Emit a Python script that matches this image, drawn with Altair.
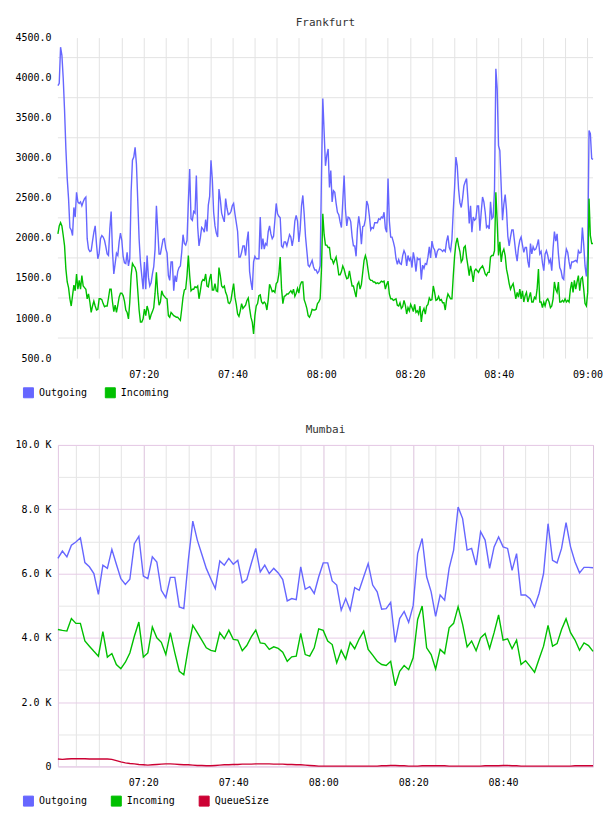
import altair as alt
import pandas as pd

MONO = "DejaVu Sans Mono"

SERIES = ["Outgoing", "Incoming", "QueueSize"]
COLORS = ["#6666ff", "#00c000", "#cc0033"]

# ---------------- Frankfurt: one sample every 18 s, first at 07:00:40 ----------------
fra_start, fra_step = 40, 18  # seconds after 07:00

fra_outgoing = [
    3900, 3930, 4380, 4280, 3990, 3590, 3110, 2740, 2490, 2130,
    2100, 2030, 2380, 2260, 2570, 2450, 2430, 2450, 2400, 2450,
    2490, 2510, 1990, 1860, 1830, 1840, 1960, 2070, 2150, 1920,
    1740, 1810, 1990, 2030, 2010, 1970, 1890, 1800, 1780, 2110,
    2330, 1830, 1550, 1680, 1810, 1780, 1950, 2060, 1970, 1770,
    1690, 1680, 1820, 1650, 1740, 2570, 2970, 3010, 3130, 2920,
    2460, 1990, 1700, 1530, 1360, 1700, 1360, 1780, 1510, 1400,
    1440, 1550, 1640, 1860, 2400, 2100, 1800, 1800, 1890, 1980,
    1990, 1870, 1810, 1530, 1470, 1700, 1700, 1340, 1530, 1450,
    1580, 1630, 1650, 1820, 2040, 1930, 1910, 1970, 2450, 2860,
    2240, 2220, 2330, 2310,
    2780, 2140, 1900, 2000, 2130, 2110, 2070, 2230, 2080, 2410,
    2520, 2970, 2730, 2320, 2150, 2060, 2010, 2610, 2480, 2310,
    2250, 2200, 2490, 2370, 2290, 2300, 2330, 2400, 2430, 2300,
    2190, 2080, 1760, 1760, 1820, 1900, 1900, 1780, 1960, 2080,
    1580, 1450, 1350, 1700, 1770, 1740, 1740, 1740, 2260, 1860,
    1990, 1860, 1930, 1910, 2080, 2150, 2050, 1990, 2020, 2220,
    2430, 2300, 2270, 2250, 1900, 1880, 1950, 1950, 1900, 1970,
    2040, 2010, 1900, 2000, 2210, 2280, 2210, 1950, 2100, 2400,
    2530, 2300, 2020, 1840, 1660, 1640, 1680, 1720, 1640, 1600,
    1600, 1560, 1580, 1650, 2780, 3740, 3320,
    2900, 3030, 3110, 2630, 2840, 2450, 2590, 2570, 2430, 2320,
    2290, 2200, 2130, 2450, 2780, 2360, 2150, 2260, 2250, 2200,
    2020, 1900, 1900, 1770, 2110, 2270, 2140, 1920, 2140, 2150,
    2230, 2460, 2410, 2270, 2100, 2130, 2120, 2190, 2190, 2190,
    2240, 2230, 2260, 2250, 2320, 2120, 2070, 2740, 2210, 2010,
    2010, 1950, 1880, 1740, 1670, 1730, 1680, 1670, 1780, 1840,
    1800, 1650, 1780, 1720, 1750, 1630, 1820, 1730, 1580, 1750,
    1730, 1740, 1480, 1660, 1620, 1680, 1670, 1760, 1890, 1750,
    1960, 1880, 1850, 1750, 1830, 1860, 1860, 1850, 1830, 1850,
    1830, 1960, 2030, 1880, 1840, 1980, 2340, 2630, 3010, 2900,
    2610, 2440, 2380, 2490,
    2650, 2700, 2740, 2490, 2180, 2400, 2070, 2260, 2220, 2240,
    2400, 2400, 2090, 2320, 2510, 2450, 2320, 2130, 2150, 2110,
    2450, 2240, 2260, 2610, 4110, 3860, 3150, 3090, 2650, 2220,
    2420, 2540, 2350, 2020, 1900, 2010, 2100, 2100, 1960, 1810,
    1710, 1880, 1970, 2010, 1910, 1820, 1880, 1880, 1710, 1630,
    1930, 1800, 1890, 1850, 1860, 1910, 1980, 1800, 1830, 1690,
    1590, 1800, 1840, 1780, 1690, 1730, 1590, 1870, 2080, 1960,
    2050, 1800, 1630, 1590, 1500, 1480, 1740, 1860, 1820, 1700,
    1610, 1700, 1700, 1710, 1720, 1700, 1840, 1810, 1820, 2130,
    1920, 1650, 1520, 1780, 3340, 3300, 2990, 2980,
]

fra_incoming = [
    2050, 2150, 2190, 2150, 2030, 1900, 1610, 1450, 1380, 1240,
    1150, 1280, 1410, 1340, 1550, 1360, 1470, 1360, 1530, 1400,
    1380, 1360, 1240, 1300, 1200, 1070, 1150, 1210, 1150, 1100,
    1110, 1240, 1240, 1230, 1180, 1140, 1150, 1150, 1250, 1360,
    1360, 1200, 1080, 1160, 1070, 1160, 1260, 1310, 1310, 1280,
    1210, 1100, 1070, 990, 1200, 1530, 1680, 1650, 1630, 1570,
    1340, 1100, 950, 950, 990, 1110, 1030, 1150, 1090, 980,
    1040, 1080, 1130, 1310, 1570, 1310, 1160, 1200, 1340, 1290,
    1270, 1250, 1240, 1030, 1010, 1070, 1050, 1030, 1020, 1010,
    1010, 990, 970, 1110, 1260, 1350, 1360, 1530, 1780, 1530,
    1340, 1360, 1360, 1390,
    1380, 1400, 1240, 1340, 1450, 1480, 1470, 1550, 1400, 1390,
    1490, 1550, 1350, 1350, 1430, 1340, 1330, 1630, 1530, 1400,
    1380, 1400, 1320, 1280, 1190, 1180, 1220, 1330, 1430, 1260,
    1170, 1050, 1020, 1090, 1180, 1120, 1140, 1160, 1220, 1250,
    1120, 1010, 950, 800, 1030, 1150, 1180, 1280, 1290, 1200,
    1180, 1200, 1180, 1100, 1230, 1420, 1380, 1330, 1340, 1320,
    1430, 1450, 1550, 1760, 1370, 1180, 1270, 1280, 1300, 1300,
    1320, 1340, 1310, 1360, 1270, 1310, 1370, 1310, 1410, 1450,
    1450, 1230, 1180, 1120, 1030, 1010, 1050, 1110, 1100, 1100,
    1110, 1180, 1200, 1240, 1610, 2300, 2040,
    1910, 1910, 1880, 1880, 1740, 1730, 1680, 1720, 1760, 1660,
    1540, 1540, 1580, 1650, 1610, 1540, 1490, 1500, 1590, 1490,
    1400, 1400, 1330, 1260, 1420, 1450, 1360, 1420, 1570, 1720,
    1780, 1720, 1600, 1490, 1470, 1470, 1450, 1450, 1430, 1440,
    1430, 1440, 1460, 1450, 1460, 1360, 1420, 1460, 1300, 1240,
    1240, 1220, 1230, 1240, 1160, 1150, 1190, 1120, 1140, 1220,
    1160, 1050, 1130, 1090, 1170, 1130, 1080, 1170, 1070, 1090,
    1050, 1150, 950, 1080, 1120, 1050, 1150, 1170, 1250, 1220,
    1230, 1400, 1320, 1220, 1230, 1270, 1220, 1230, 1190, 1190,
    1100, 1230, 1300, 1270, 1240, 1240, 1520, 1770, 1930, 2000,
    1900, 1830, 1700, 1730,
    1880, 1900, 1760, 1650, 1530, 1650, 1570, 1450, 1590, 1610,
    1590, 1570, 1610, 1630, 1650, 1610, 1550, 1530, 1570, 1570,
    1760, 1780, 1780, 1840, 2570, 2200, 1780, 1950, 1700, 1820,
    1860, 1780, 1610, 1530, 1430, 1360, 1400, 1430, 1340, 1240,
    1320, 1260, 1360, 1240, 1340, 1200, 1280, 1320, 1200, 1260,
    1320, 1200, 1200, 1260, 1240, 1360, 1610, 1200, 1200, 1130,
    1200, 1150, 1220, 1240, 1200, 1130, 1150, 1240, 1450, 1360,
    1320, 1450, 1200, 1200, 1220, 1200, 1240, 1200, 1220, 1200,
    1360, 1450, 1320, 1470, 1360, 1450, 1530, 1340, 1490, 1510,
    1360, 1180, 1150, 1320, 2490, 2030, 1930, 1930,
]

fra_y_labels = [500, 1000, 1500, 2000, 2500, 3000, 3500, 4000, 4500]
fra_y_grid = [750, 1250, 1750, 2250, 2750, 3250, 3750, 4250]

# ---------------- Mumbai: one sample per minute, 07:01 .. 09:00 ----------------
mum_start, mum_step = 60, 60

mum_outgoing = [
    6470, 6700, 6520, 6880, 6980, 7110, 6340, 6210, 6000, 5350,
    6260, 6160, 6750, 6290, 5840, 5660, 5820, 6930, 7160, 5920,
    5840, 6520, 6360, 5480, 5250, 5880, 5880, 4960, 4910, 6410,
    7630, 7040, 6600, 6160, 5840, 5530, 6390, 6260, 6470, 6290,
    6410, 5710, 5810, 6310, 6780, 6050, 6260, 6000, 6160, 6020,
    5810, 5150, 5220, 5190, 6210, 5510, 5590, 5380, 5900, 6330,
    6330, 5770, 5640, 4860, 5220, 4860, 5560, 5480, 5900, 6310,
    5640, 5430, 4890, 4910, 5100, 3860, 4600, 4820, 4480, 5000,
    6620, 7090, 5900, 5430, 4670, 5330, 5170, 6160, 6730, 8070,
    7710, 6730, 6780, 6260, 7300, 7040, 6160, 6830, 7140, 6830,
    6780, 6100, 6620, 5330, 5330, 5220, 4960, 5380, 6000, 7550,
    6410, 6330, 6780, 7580, 6830, 6360, 6020, 6190, 6190, 6180,
]

mum_incoming = [
    4260, 4230, 4210, 4600, 4450, 4450, 3900, 3740, 3580, 3430,
    4190, 3400, 3510, 3170, 3040, 3240, 3530, 4050, 4490, 3400,
    3530, 4340, 4000, 3860, 3480, 4160, 3530, 2960, 2850, 3690,
    4390, 4160, 3930, 3690, 3610, 3580, 4160, 3970, 4240, 3950,
    3930, 3600, 3760, 4030, 4240, 3840, 3820, 3640, 3720, 3670,
    3550, 3270, 3410, 3430, 4140, 3480, 3430, 3690, 4280, 4230,
    3900, 3790, 3220, 3610, 3340, 3860, 3660, 3970, 4210, 3640,
    3460, 3270, 3170, 3140, 3270, 2510, 2960, 3140, 3010, 3380,
    4570, 4990, 3690, 3480, 3030, 3640, 3510, 4310, 4450, 4970,
    4420, 3720, 3900, 3600, 4000, 4130, 3670, 4160, 4710, 3930,
    3970, 3660, 3930, 3170, 3290, 3110, 2930, 3340, 3740, 4390,
    3740, 3820, 4260, 4590, 4160, 3930, 3610, 3840, 3760, 3580,
]

mum_queue = [
    230, 220, 230, 240, 240, 240, 240, 230, 230, 230,
    230, 230, 220, 180, 140, 110, 90, 80, 60, 50,
    40, 50, 60, 70, 80, 80, 70, 60, 50, 50,
    40, 30, 30, 20, 20, 30, 40, 50, 50, 60,
    60, 70, 70, 70, 80, 80, 80, 80, 70, 70,
    70, 60, 60, 50, 50, 40, 30, 20, 10, 10,
    10, 10, 10, 10, 10, 10, 10, 10, 10, 10,
    10, 10, 20, 20, 30, 30, 20, 20, 10, 10,
    10, 20, 20, 20, 20, 20, 20, 10, 10, 10,
    10, 10, 10, 10, 10, 20, 20, 20, 20, 30,
    30, 20, 20, 10, 10, 10, 10, 10, 10, 10,
    10, 10, 10, 10, 10, 20, 20, 20, 20, 20,
]

mum_y_ticks = list(range(0, 10001, 1000))

# x ticks every 5 minutes (seconds after 07:00), labels every 20 minutes
x_ticks = list(range(300, 7201, 300))


def long_frame(start, step, series):
    rows = []
    for name, values in series.items():
        for i, v in enumerate(values):
            rows.append({"t": start + i * step, "series": name, "value": v})
    return pd.DataFrame(rows)


fra_df = long_frame(fra_start, fra_step, {"Outgoing": fra_outgoing, "Incoming": fra_incoming})
mum_df = long_frame(mum_start, mum_step,
                    {"Outgoing": mum_outgoing, "Incoming": mum_incoming, "QueueSize": mum_queue})

TIME_LABEL = "timeFormat(datetime(2000, 0, 1, 7, 0, datum.value), '%H:%M')"


def legend(x, y):
    return alt.Legend(
        title=None, orient="none", legendX=x, legendY=y, direction="horizontal",
        symbolType="square", symbolSize=100, symbolStrokeColor="#888888",
        symbolStrokeWidth=1, symbolOpacity=1, labelFont=MONO, labelFontSize=10,
        labelColor="#000000", labelOffset=5, columnPadding=15, gridAlign="all", padding=0,
    )


def legend_key(df, color_scale, x, y):
    # layer with no rows: it only supplies the filled square legend swatches
    return alt.Chart(df).transform_filter("false").mark_square(
        filled=True, size=100, opacity=1, stroke="#888888", strokeWidth=1
    ).encode(color=alt.Color("series:N", scale=color_scale, legend=legend(x, y)))


def chart_title(text):
    return alt.TitleParams(text, font=MONO, fontSize=11, fontWeight="normal",
                           color="#333333", offset=5, anchor="middle")


# ---------------- Frankfurt panel ----------------
fra_n = len(fra_outgoing)
fra_x_scale = alt.Scale(domain=[fra_start, fra_start + fra_step * (fra_n - 1)], nice=False, zero=False)
fra_y_scale = alt.Scale(domain=[500, 4500], nice=False, zero=False)
fra_color = alt.Scale(domain=SERIES[:2], range=COLORS[:2])

fra_x = alt.X("t:Q", scale=fra_x_scale, title=None, axis=alt.Axis(
    values=x_ticks, labelExpr=f"datum.value % 1200 == 0 ? {TIME_LABEL} : ''",
    grid=True, gridColor="#e3e3e3", ticks=False, domain=False,
    labelFont=MONO, labelFontSize=10, labelColor="#000000", labelPadding=11,
    labelFlush=False, labelOverlap=False))

fra_y_axis = alt.Axis(
    values=fra_y_labels, format=".1f", grid=False, ticks=False, domain=False,
    labelFont=MONO, labelFontSize=10, labelColor="#000000", labelPadding=7,
    labelOverlap=False, labelFlush=False)

# horizontal guide lines sit halfway between the labelled values
fra_grid = alt.Chart(pd.DataFrame({"value": fra_y_grid})).mark_rule(
    color="#e3e3e3", strokeWidth=1
).encode(y=alt.Y("value:Q", scale=fra_y_scale, title=None, axis=fra_y_axis))

fra_lines = alt.Chart(fra_df).mark_line(strokeWidth=1.4).encode(
    x=fra_x,
    y=alt.Y("value:Q", scale=fra_y_scale, title=None, axis=fra_y_axis),
    color=alt.Color("series:N", scale=fra_color, legend=None),
    detail="series:N",
)

frankfurt = alt.layer(legend_key(fra_df, fra_color, -35, 350), fra_grid, fra_lines).properties(
    width=536, height=321, title=chart_title("Frankfurt"),
    view=alt.ViewBackground(stroke="transparent"),
)

# ---------------- Mumbai panel ----------------
mum_n = len(mum_outgoing)
mum_x_scale = alt.Scale(domain=[mum_start, mum_start + mum_step * (mum_n - 1)], nice=False, zero=False)
mum_y_scale = alt.Scale(domain=[0, 10000], nice=False, zero=False)
mum_color = alt.Scale(domain=SERIES, range=COLORS)

mum_x = alt.X("t:Q", scale=mum_x_scale, title=None, axis=alt.Axis(
    values=x_ticks, labelExpr=f"datum.value % 1200 == 0 && datum.value < 7200 ? {TIME_LABEL} : ''",
    grid=True,
    gridColor={"condition": {"test": "datum.value % 1200 == 0", "value": "#dcc2dc"}, "value": "#e4e4e4"},
    ticks=False, domain=False,
    labelFont=MONO, labelFontSize=10, labelColor="#000000", labelPadding=11,
    labelFlush=False, labelOverlap=False))

mum_y = alt.Y("value:Q", scale=mum_y_scale, title=None, axis=alt.Axis(
    values=mum_y_ticks,
    labelExpr="datum.value % 2000 == 0 ? (datum.value == 0 ? '0' : format(datum.value / 1000, '.1f') + ' K') : ''",
    grid=True,
    gridColor={"condition": {"test": "datum.value % 2000 == 0", "value": "#e6cce6"}, "value": "#e6e6e6"},
    ticks=False, domain=False,
    labelFont=MONO, labelFontSize=10, labelColor="#000000", labelPadding=7,
    labelOverlap=False, labelFlush=False))

mum_lines = alt.Chart(mum_df).mark_line(strokeWidth=1.4).encode(
    x=mum_x,
    y=mum_y,
    color=alt.Color("series:N", scale=mum_color, legend=None),
    detail="series:N",
)

mumbai = alt.layer(legend_key(mum_df, mum_color, -35, 351), mum_lines).properties(
    width=536, height=322, title=chart_title("Mumbai"),
    view=alt.ViewBackground(stroke="#e2c6e2"),
)

chart = alt.vconcat(frankfurt, mumbai, spacing=22).resolve_scale(
    x="independent", y="independent", color="independent"
).resolve_legend(color="independent").properties(
    padding={"left": 14, "top": 15, "right": 5, "bottom": 5}
).configure(background="#ffffff")

chart.save("out.html", embed_options={"renderer": "svg", "actions": False})
